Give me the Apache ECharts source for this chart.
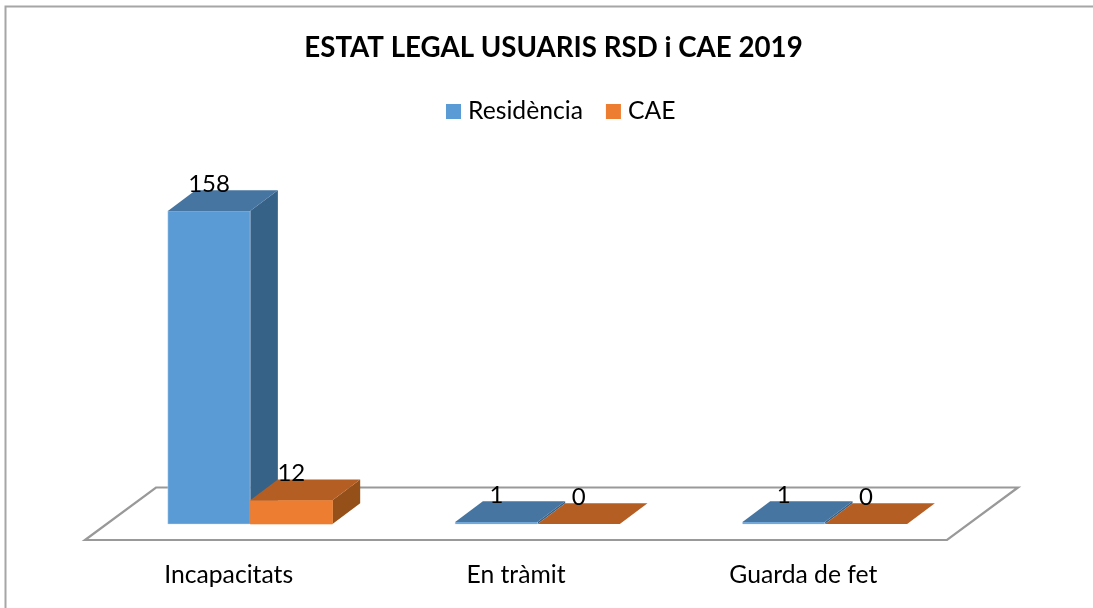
<!DOCTYPE html>
<html>
<head>
<meta charset="utf-8">
<style>html,body{margin:0;padding:0;background:#fff}#c{width:1093px;height:608px}</style>
<script src="https://cdn.jsdelivr.net/npm/echarts@6/dist/echarts.min.js"></script>
</head>
<body>
<div id="c"></div>
<script>
var categories = ['Incapacitats', 'En tràmit', 'Guarda de fet'];
var residencia = [158, 1, 1];
var cae = [12, 0, 0];
var titleText = 'ESTAT LEGAL USUARIS RSD i CAE 2019';

var FONT = 'Lato, Carlito, sans-serif';
var barShare = 0.2865;       // share of a category band taken by one bar
var floorLift = { dx: 21.5, dy: -16 };  // bars stand inside the floor
var barDepth = { dx: 27.7, dy: -20.7 };
var floorDepth = { dx: 71, dy: -52.5 };

function pts(a) { return { points: a }; }

function barRenderer(side, front, top, flank, edge) {
  return function (params, api) {
    var c = api.coord([api.value(0), api.value(1)]);
    var base = api.coord([api.value(0), 0]);
    var band = api.size([1, 0])[0];
    var w = band * barShare;
    var x0 = c[0] + floorLift.dx + (side === 0 ? -w : 0);
    var x1 = x0 + w;
    var yT = c[1] + floorLift.dy;
    var yB = base[1] + floorLift.dy;
    var dx = barDepth.dx, dy = barDepth.dy;
    var children = [];
    if (yB - yT > 0.5) {
      children.push({ type: 'polygon', shape: pts([[x1, yT], [x1 + dx, yT + dy], [x1 + dx, yB + dy], [x1, yB]]), style: { fill: flank } });
      children.push({ type: 'rect', shape: { x: x0, y: yT, width: w, height: yB - yT }, style: { fill: front, stroke: edge, lineWidth: 0.6 } });
    }
    children.push({ type: 'polygon', shape: pts([[x0, yT], [x1, yT], [x1 + dx, yT + dy], [x0 + dx, yT + dy]]), style: { fill: top } });
    children.push({
      type: 'text',
      style: {
        text: String(api.value(1)), x: (x0 + x1) / 2, y: yT - 26.5,
        align: 'center', verticalAlign: 'middle',
        fill: '#000', font: '24px ' + FONT
      }
    });
    return { type: 'group', children: children };
  };
}

function floorRenderer(params, api) {
  var band = api.size([1, 0])[0];
  var first = api.coord([0, 0]);
  var last = api.coord([categories.length - 1, 0]);
  var l = first[0] - band / 2, r = last[0] + band / 2, y = first[1];
  return {
    type: 'polygon',
    shape: pts([[l, y], [r, y], [r + floorDepth.dx, y + floorDepth.dy], [l + floorDepth.dx, y + floorDepth.dy]]),
    style: { fill: 'none', stroke: '#999999', lineWidth: 2.2 }
  };
}

var chart = echarts.init(document.getElementById('c'), null, { renderer: 'canvas' });
chart.setOption({
  animation: false,
  backgroundColor: '#fff',
  title: {
    text: titleText, left: 548.5, textAlign: 'center', top: 29,
    textStyle: { fontFamily: FONT, fontSize: 27.7, fontWeight: 'bold', color: '#000' }
  },
  legend: {
    data: ['Residència', 'CAE'], left: 446, top: 99, padding: 0,
    icon: 'rect', itemWidth: 15, itemHeight: 15, itemGap: 23,
    textStyle: { fontFamily: FONT, fontSize: 24.7, color: '#000', padding: [0, 0, 0, 2] }
  },
  grid: { left: 85, width: 862, top: 223, height: 317 },
  xAxis: {
    type: 'category', data: categories,
    axisLine: { show: false }, axisTick: { show: false }, splitLine: { show: false },
    axisLabel: { fontFamily: FONT, fontSize: 24.7, color: '#000', margin: 23, interval: 0 }
  },
  yAxis: { type: 'value', min: 0, max: 160, show: false },
  graphic: [
    { type: 'polyline', shape: { points: [[5.5, 608], [5.5, 6.5], [1093, 6.5]] }, style: { fill: 'none', stroke: '#a6a6a6', lineWidth: 2 }, silent: true }
  ],
  series: [
    { type: 'custom', name: 'floor', silent: true, data: [[0, 0]], encode: { x: 0, y: 1 }, renderItem: floorRenderer },
    { type: 'custom', name: 'Residència', silent: true, itemStyle: { color: '#5B9BD5' },
      data: residencia.map(function (v, i) { return [i, v]; }), encode: { x: 0, y: 1 },
      renderItem: barRenderer(0, '#5B9BD5', '#4675A1', '#376287', 'rgba(205,222,240,0.7)') },
    { type: 'custom', name: 'CAE', silent: true, itemStyle: { color: '#ED7D31' },
      data: cae.map(function (v, i) { return [i, v]; }), encode: { x: 0, y: 1 },
      renderItem: barRenderer(1, '#ED7D31', '#B55E23', '#955019', '#ED7D31') }
  ]
});
</script>
</body>
</html>
